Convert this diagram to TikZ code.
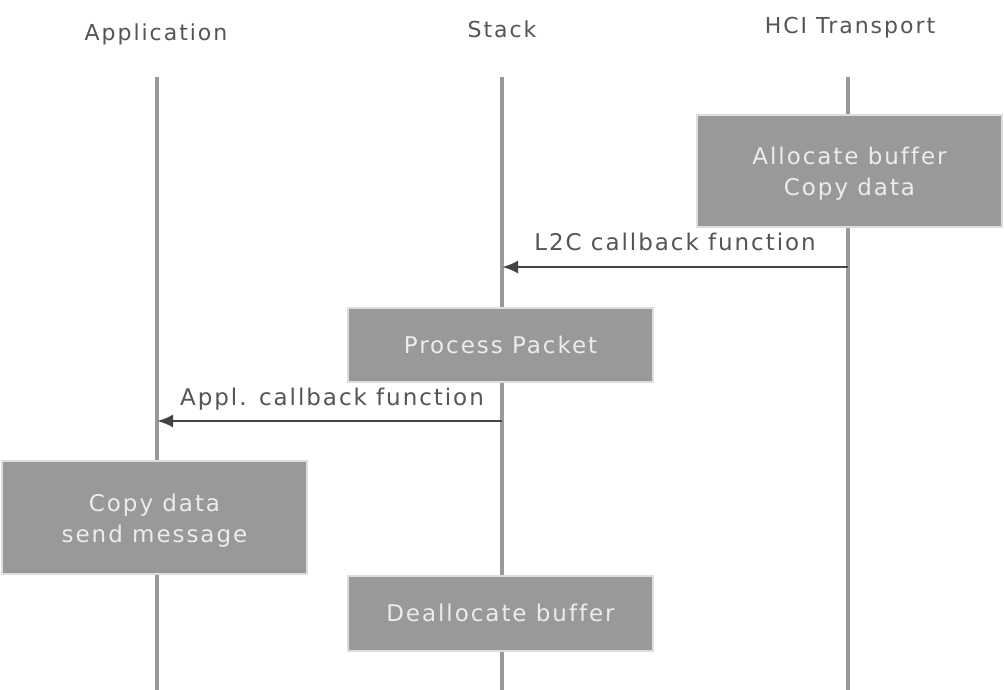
\documentclass[tikz,border=0pt]{standalone}
\usepackage{fontspec}
\setmainfont[Ligatures={NoCommon}]{DejaVu Sans}
\usetikzlibrary{arrows.meta}
\definecolor{boxfill}{HTML}{999999}
\definecolor{boxline}{HTML}{DDDDDD}
\definecolor{boxtext}{HTML}{ECECEC}
\definecolor{lifeline}{HTML}{999999}
\definecolor{msgline}{HTML}{444444}
\definecolor{labeltext}{HTML}{555555}
\tikzset{
  actor/.style={font=\fontsize{22}{28}\selectfont\addfontfeature{LetterSpace=9}, text=labeltext, inner sep=0pt},
  life/.style={draw=lifeline, line width=3.5pt},
  act/.style={fill=boxfill, draw=boxline, line width=2pt, text=boxtext, align=center,
    font=\fontsize{23}{31}\selectfont\addfontfeature{LetterSpace=8.5}, inner sep=0pt},
  twoline/.style={text height=#1, text depth=0pt},
  msg/.style={draw=msgline, line width=2.5pt, -{Latex[length=16pt,width=13pt]}},
  msglabel/.style={font=\fontsize{23}{28}\selectfont\addfontfeature{LetterSpace=8.5}, text=labeltext, inner sep=0pt},
}
\begin{document}
\begin{tikzpicture}[x=1pt,y=-1pt]
\useasboundingbox[fill=white] (0,0) rectangle (1004,690);
% actors
\node[actor] (app) at (156,34) {Application};
\node[actor] (stk) at (502,29) {Stack};
\node[actor] (hci) at (850,28) {HCI Transport};
% lifeline coordinates
\coordinate (appTop) at (157,77);
\coordinate (appBot) at (157,690);
\coordinate (stkTop) at (502,77);
\coordinate (stkBot) at (502,690);
\coordinate (hciTop) at (848,77);
\coordinate (hciBot) at (848,690);
\draw[life] (appTop) -- (appBot);
\draw[life] (stkTop) -- (stkBot);
\draw[life] (hciTop) -- (hciBot);
% activity boxes
\node[act, twoline=48pt, minimum width=305pt, minimum height=112pt] (alloc) at (849.5,171) {Allocate buffer\\Copy data};
\node[act, minimum width=305pt, minimum height=74pt] (proc) at (500.5,345) {Process Packet};
\node[act, twoline=50pt, minimum width=305pt, minimum height=113pt] (copy) at (154.5,517.5) {Copy data\\send message};
\node[act, minimum width=305pt, minimum height=75pt] (dealloc) at (500.5,613) {Deallocate buffer};
% messages
\coordinate (m1s) at (848,267);
\coordinate (m1e) at (502,267);
\coordinate (m2s) at (502,421);
\coordinate (m2e) at (157,421);
\draw[msg] (m1s) -- (m1e);
\draw[msg] (m2s) -- (m2e);
\node[msglabel] (l1) at (675,242) {L2C callback function};
\node[msglabel] (l2) at (332,399) {Appl. callback function};
\end{tikzpicture}
\end{document}
